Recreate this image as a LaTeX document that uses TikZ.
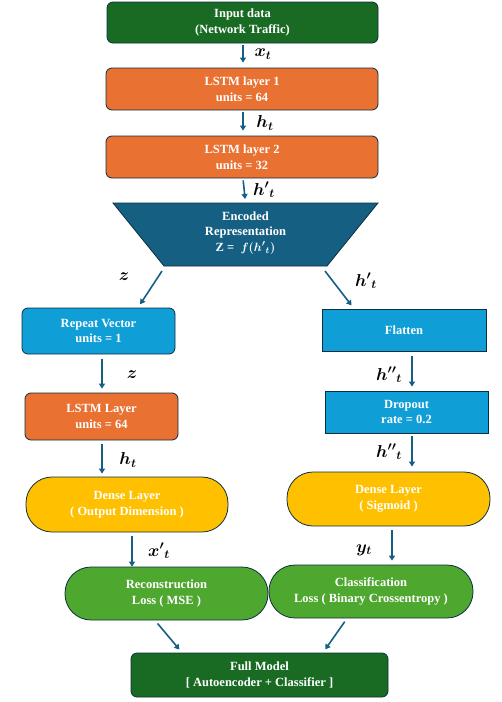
\documentclass[tikz,border=0pt]{standalone}
\usepackage{amsmath,bm}
\usepackage{fontspec}
\setmainfont{Liberation Serif}
\usetikzlibrary{arrows.meta}
\definecolor{dgreen}{HTML}{196B24}
\definecolor{orng}{HTML}{E97132}
\definecolor{teal}{HTML}{156082}
\definecolor{lblue}{HTML}{0F9ED5}
\definecolor{yell}{HTML}{FFC000}
\definecolor{lgreen}{HTML}{4EA72E}
\definecolor{edge}{HTML}{0C2F3F}
\tikzset{
  box/.style={draw=edge, line width=0.8pt, text=white, align=center,
    font=\fontsize{12.5}{15.5}\selectfont\bfseries, inner sep=0pt},
  rbox/.style={box, rounded corners=6pt},
  pill/.style={box, rounded corners=26pt},
  arr/.style={draw=teal, line width=1.6pt, -{Triangle[length=5pt,width=6pt]}},
  lab/.style={font=\fontsize{18}{18}\selectfont, inner sep=0pt}
}
\begin{document}
\begin{tikzpicture}[x=1pt,y=-1pt]
\useasboundingbox (0,0) rectangle (502,702);
% encoder
\node[rbox, fill=dgreen, minimum width=271pt, minimum height=41pt] (in) at (242.5,22.5) {Input data\\(Network Traffic)};
\node[rbox, fill=orng, minimum width=272pt, minimum height=42pt] (l1) at (242,89) {LSTM layer 1\\units = 64};
\node[rbox, fill=orng, minimum width=272pt, minimum height=42pt] (l2) at (242,157) {LSTM layer 2\\units = 32};
\draw[draw=edge, line width=0.8pt, fill=teal] (113,203) -- (378,203) -- (327,266) -- (164,266) -- cycle;
\node[box, draw=none] (enc) at (245.5,233) {Encoded\\Representation\\Z = \ $\bm{f({h'}_{t})}$};
\coordinate (encL) at (162,271);
\coordinate (encR) at (325,271);
% branches
\node[rbox, fill=lblue, minimum width=153pt, minimum height=46pt] (rv) at (98.5,331) {Repeat Vector\\units = 1};
\node[box, fill=lblue, minimum width=164pt, minimum height=42pt] (fl) at (404,330) {Flatten};
\node[rbox, fill=orng, minimum width=153pt, minimum height=47pt] (l3) at (101.5,416.5) {LSTM Layer\\units = 64};
\node[box, fill=lblue, minimum width=163pt, minimum height=42pt] (dr) at (406.5,412) {Dropout\\rate = 0.2};
\node[pill, fill=yell, minimum width=202pt, minimum height=55pt] (dl) at (127,504.5) {Dense Layer\\( Output Dimension )};
\node[pill, fill=yell, minimum width=203pt, minimum height=54pt] (ds) at (388.5,499) {Dense Layer\\( Sigmoid )};
\node[pill, fill=lgreen, minimum width=203pt, minimum height=53pt] (rl) at (166.5,593.5) {Reconstruction\\Loss ( MSE )};
\node[pill, fill=lgreen, minimum width=204pt, minimum height=53pt] (cl) at (371,591.5) {Classification\\Loss ( Binary Crossentropy )};
\node[rbox, fill=dgreen, minimum width=257pt, minimum height=44pt] (fm) at (259.5,675) {Full Model\\{[} Autoencoder + Classifier {]}};
% arrows
\draw[arr, shorten <=2pt, shorten >=5pt] ([xshift=0.5pt]in.south) -- ([xshift=1pt]l1.north);
\draw[arr, shorten <=2pt, shorten >=5pt] ([xshift=1pt]l1.south) -- ([xshift=1pt]l2.north);
\draw[arr, shorten <=2pt, shorten >=4pt] ([xshift=1pt]l2.south) -- (245.5,203);
\draw[arr, shorten >=4pt] (encL) -- ([xshift=39.5pt]rv.north);
\draw[arr, shorten >=4pt] (encR) -- ([xshift=-50pt]fl.north);
\draw[arr, shorten <=5pt, shorten >=4pt] ([xshift=3.5pt]rv.south) -- ([xshift=0.5pt]l3.north);
\draw[arr, shorten <=5pt, shorten >=4pt] ([xshift=8pt]fl.south) -- ([xshift=5.5pt]dr.north);
\draw[arr, shorten <=4pt, shorten >=3pt] ([xshift=0.5pt]l3.south) -- ([xshift=-25pt]dl.north);
\draw[arr, shorten <=3pt, shorten >=5pt] ([xshift=5.5pt]dr.south) -- ([xshift=23.5pt]ds.north);
\draw[arr, shorten <=4pt, shorten >=0pt] ([xshift=5pt]dl.south) -- ([xshift=-34.5pt]rl.north);
\draw[arr, shorten <=4pt, shorten >=4pt] ([xshift=3.5pt]ds.south) -- ([xshift=21pt]cl.north);
\draw[arr, shorten <=4pt, shorten >=4pt] ([xshift=-11.5pt]rl.south) -- ([xshift=-77.5pt]fm.north);
\draw[arr, shorten <=4pt, shorten >=4pt] ([xshift=-24pt]cl.south) -- ([xshift=63.5pt]fm.north);
% labels
\node[lab] (t1) at (263,54) {$\bm{x_{t}}$};
\node[lab] (t2) at (265,123) {$\bm{h_{t}}$};
\node[lab] (t3) at (264,190) {${\bm{h'}}_{\bm{t}}$};
\node[lab] (t4) at (124,277) {$\bm{z}$};
\node[lab] (t5) at (366,281) {${\bm{h'}}_{\bm{t}}$};
\node[lab] (t6) at (132,375) {$\bm{z}$};
\node[lab] (t7) at (389,375) {${\bm{h''}}_{\bm{t}}$};
\node[lab] (t8) at (128,460) {$\bm{h_{t}}$};
\node[lab] (t9) at (389,452) {${\bm{h''}}_{\bm{t}}$};
\node[lab] (t10) at (159,551) {${\bm{x'}}_{\bm{t}}$};
\node[lab] (t11) at (364,550) {$\bm{y_{t}}$};
\end{tikzpicture}
\end{document}
